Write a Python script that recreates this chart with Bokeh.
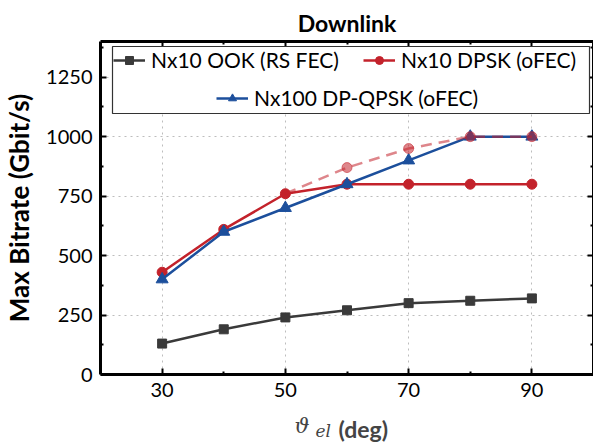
from bokeh.plotting import figure
from bokeh.layouts import column
from bokeh.models import (Legend, LegendItem, FixedTicker, LinearAxis, Label,
                          BoxAnnotation, Range1d)
from bokeh.embed import file_html
from bokeh.resources import INLINE

# ---- data ----
elevation = [30, 40, 50, 60, 70, 80, 90]
ook_rs = [130, 190, 240, 270, 300, 310, 320]
dpsk_ofec = [430, 610, 760, 800, 800, 800, 800]
dpqpsk_ofec = [400, 600, 700, 800, 900, 1000, 1000]
dpsk_ext_x = [50, 60, 70, 80, 90]
dpsk_ext = [760, 870, 950, 1000, 1000]
x_ticks = [30, 50, 70, 90]
x_minor = [40, 60, 80]
y_ticks = [0, 250, 500, 750, 1000, 1250]
y_minor = [125, 375, 625, 875, 1125, 1375]

FONT = "Lato"
C_OOK = "#3a3a3a"
C_DPSK = "#c3222b"
C_QPSK = "#1c4f9c"

p = figure(width=593, height=412, output_backend="svg", toolbar_location=None,
           x_range=Range1d(20, 100), y_range=Range1d(0, 1400),
           min_border_left=100, min_border_right=0, min_border_top=41,
           min_border_bottom=38)
p.frame_align = False
p.outline_line_color = None
p.background_fill_color = "white"
p.border_fill_color = "white"

p.title.text = "Downlink"
p.title.align = "center"
p.title.text_font = FONT
p.title.text_font_style = "bold"
p.title.text_font_size = "23px"
p.title.text_color = "black"

xt = FixedTicker(ticks=x_ticks, minor_ticks=x_minor)
yt = FixedTicker(ticks=y_ticks, minor_ticks=y_minor)


def style_axis(ax, ticks, labels=True):
    ax.axis_line_width = 3
    ax.axis_line_color = "black"
    ax.major_tick_in = 6
    ax.major_tick_out = 0
    ax.minor_tick_in = 3
    ax.minor_tick_out = 0
    ax.major_tick_line_width = 2
    ax.minor_tick_line_width = 2
    ax.major_tick_line_color = "black"
    ax.minor_tick_line_color = "black"
    if labels:
        ax.major_label_text_font = FONT
        ax.major_label_text_font_size = "20px"
        ax.major_label_text_color = "black"
        ax.major_label_standoff = 8
    else:
        ax.major_label_overrides = {t: "" for t in ticks}
        ax.major_label_standoff = 0


p.xaxis.ticker = xt
p.yaxis.ticker = yt
style_axis(p.xaxis[0], x_ticks)
style_axis(p.yaxis[0], y_ticks)
p.yaxis.axis_label = "Max Bitrate (Gbit/s)"
p.yaxis.axis_label_text_font = FONT
p.yaxis.axis_label_text_font_style = "bold"
p.yaxis.axis_label_text_font_size = "26px"
p.yaxis.axis_label_text_color = "black"
p.yaxis.axis_label_standoff = 8

top_ax = LinearAxis(ticker=xt)
right_ax = LinearAxis(ticker=yt)
style_axis(top_ax, x_ticks, labels=False)
style_axis(right_ax, y_ticks, labels=False)
p.add_layout(top_ax, "above")
p.add_layout(right_ax, "right")

p.xgrid.ticker = xt
p.ygrid.ticker = yt
for g in (p.xgrid[0], p.ygrid[0]):
    g.grid_line_color = "#bdbdbd"
    g.grid_line_dash = "2 4"
    g.grid_line_width = 1

# ---- series ----
l_ook = p.line(elevation, ook_rs, line_color=C_OOK, line_width=2.5)
s_ook = p.scatter(elevation, ook_rs, marker="square", size=9, color=C_OOK)
l_dpsk = p.line(elevation, dpsk_ofec, line_color=C_DPSK, line_width=2.5)
s_dpsk = p.scatter(elevation, dpsk_ofec, marker="circle", size=10, color=C_DPSK)
l_qpsk = p.line(elevation, dpqpsk_ofec, line_color=C_QPSK, line_width=2.5)
s_qpsk = p.scatter(elevation, dpqpsk_ofec, marker="triangle", size=12, color=C_QPSK)
p.line(dpsk_ext_x, dpsk_ext, line_color=C_DPSK, line_alpha=0.55, line_width=2.5,
       line_dash="11 7")
p.scatter(dpsk_ext_x[1:], dpsk_ext[1:], marker="circle", size=10, color=C_DPSK,
          alpha=0.55)

# ---- legend ----
box = BoxAnnotation(left=12, right=489, top=328, bottom=261,
                    left_units="screen", right_units="screen",
                    top_units="screen", bottom_units="screen",
                    fill_color="white", fill_alpha=1.0,
                    line_color="#333333", line_alpha=1.0, line_width=1.2)
p.add_layout(box)


def mk_legend(items, loc):
    lg = Legend(items=items, location=loc, orientation="horizontal",
                border_line_color=None, background_fill_alpha=0,
                padding=0, margin=0, spacing=24, glyph_width=32,
                glyph_height=20, label_height=20, label_standoff=6,
                label_text_font=FONT, label_text_font_size="21px",
                label_text_color="black")
    return lg


lg1 = mk_legend([LegendItem(label="Nx10 OOK (RS FEC)", renderers=[l_ook, s_ook]),
                 LegendItem(label="Nx10 DPSK (oFEC)", renderers=[l_dpsk, s_dpsk])],
                (13, 302))
lg2 = mk_legend([LegendItem(label="Nx100 DP-QPSK (oFEC)", renderers=[l_qpsk, s_qpsk])],
                (116, 264))
p.add_layout(lg1)
p.add_layout(lg2)

# ---- x-axis label strip (math-style label with mixed fonts) ----
q = figure(width=593, height=32, output_backend="svg", toolbar_location=None,
           x_range=Range1d(0, 1), y_range=Range1d(0, 1),
           min_border=0, min_border_left=0, min_border_right=0,
           min_border_top=0, min_border_bottom=0, title=None)
q.frame_align = False
q.axis.visible = False
q.grid.visible = False
q.outline_line_color = None
q.background_fill_color = "white"
q.border_fill_color = "white"
q.add_layout(Label(x=294, y=19, x_units="screen", y_units="screen", text="ϑ",
                   text_font="DejaVu Serif", text_font_style="italic",
                   text_font_size="21px", text_baseline="alphabetic"))
q.add_layout(Label(x=315, y=14, x_units="screen", y_units="screen", text="el",
                   text_font="DejaVu Serif", text_font_style="italic",
                   text_font_size="17px", text_baseline="alphabetic"))
q.add_layout(Label(x=338, y=16, x_units="screen", y_units="screen", text="(deg)",
                   text_font=FONT, text_font_style="bold",
                   text_font_size="23px", text_baseline="alphabetic"))

layout = column(p, q, spacing=0)
open("out.html", "w").write(file_html(layout, INLINE))
